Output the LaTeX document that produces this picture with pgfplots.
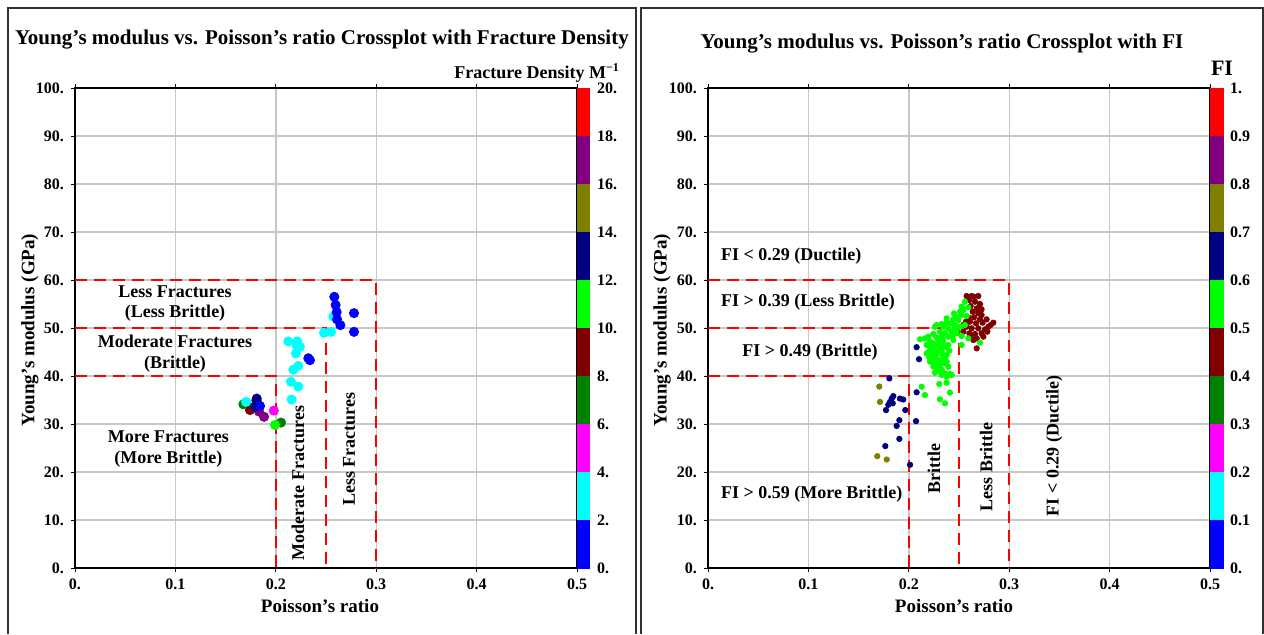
\documentclass[border=0pt]{standalone}
\usepackage{fontspec}
\setmainfont{Liberation Serif}
\usepackage{pgfplots}
\pgfplotsset{compat=1.18}

\definecolor{cBlue}{RGB}{0,0,255}
\definecolor{cCyan}{RGB}{0,255,255}
\definecolor{cMagenta}{RGB}{255,0,255}
\definecolor{cGreen}{RGB}{0,128,0}
\definecolor{cMaroon}{RGB}{128,0,0}
\definecolor{cLime}{RGB}{0,255,0}
\definecolor{cNavy}{RGB}{0,0,128}
\definecolor{cOlive}{RGB}{128,128,0}
\definecolor{cPurple}{RGB}{128,0,128}
\definecolor{cRed}{RGB}{255,0,0}
\definecolor{frame}{RGB}{50,50,50}

\tikzset{lab/.style={font=\bfseries\fontsize{9}{10.5}\selectfont, align=center}}

\pgfplotsset{
  colormap={tencol}{rgb255=(0,0,255) rgb255=(0,255,255) rgb255=(255,0,255)
    rgb255=(0,128,0) rgb255=(128,0,0) rgb255=(0,255,0) rgb255=(0,0,128)
    rgb255=(128,128,0) rgb255=(128,0,128) rgb255=(255,0,0)},
  crossplot/.style={
    scale only axis, width=251pt, height=240pt,
    xmin=0, xmax=0.5, ymin=0, ymax=100,
    xtick={0,0.1,0.2,0.3,0.4,0.5},
    xticklabels={0.,0.1,0.2,0.3,0.4,0.5},
    ytick={0,10,20,30,40,50,60,70,80,90,100},
    yticklabels={0.,10.,20.,30.,40.,50.,60.,70.,80.,90.,100.},
    grid=major, major grid style={black!22, line width=0.7pt},
    axis line style={line width=1.1pt, black},
    tick style={black, line width=0.5pt}, major tick length=2pt, tick align=outside,
    tick label style={font=\bfseries\fontsize{8}{9}\selectfont},
    /pgf/number format/assume math mode=true,
    colormap name=tencol, colormap access=piecewise constant,
    colorbar,
    colorbar style={
      at={(1,0)}, anchor=south west, xshift=0.6pt,
      scale only axis, width=6.5pt, height=240pt,
      major tick length=0pt, axis line style={draw=none},
      yticklabel style={font=\bfseries\fontsize{8}{9}\selectfont},
      /pgf/number format/assume math mode=true,
    },
  },
  fd/.style={only marks, mark=*, mark size=2.3pt, draw=#1, fill=#1},
  fi/.style={only marks, mark=*, mark size=1.35pt, draw=#1, fill=#1},
  cut/.style={cRed, line width=1pt, dash pattern=on 6pt off 3.5pt},
}

\begin{document}
\begin{tikzpicture}
\useasboundingbox (0,0) rectangle (632pt,317pt);

% ---------------- left: fracture density ----------------
\begin{axis}[crossplot, at={(37.5pt,33pt)}, anchor=south west,
  point meta min=0, point meta max=20,
  colorbar style={ytick={0,2,4,6,8,10,12,14,16,18,20},
    yticklabels={0.,2.,4.,6.,8.,10.,12.,14.,16.,18.,20.}}]
\addplot[cut] coordinates {(0,60) (0.3,60) (0.3,0)};
\addplot[cut] coordinates {(0,50) (0.25,50) (0.25,0)};
\addplot[cut] coordinates {(0,40) (0.2,40) (0.2,0)};

\addplot[fd=cGreen] coordinates {(0.1677,34.1) (0.1776,33.5) (0.2052,30.3)};
\addplot[fd=cMaroon] coordinates {(0.1743,32.9)};
\addplot[fd=cPurple] coordinates {(0.1833,32.6) (0.1883,31.5)};
\addplot[fd=cNavy] coordinates {(0.1810,35.3) (0.1816,34.4) (0.1790,33.6) (0.1806,34.9)};
\addplot[fd=cMagenta] coordinates {(0.1980,32.8)};
\addplot[fd=cLime] coordinates {(0.1992,29.8)};
\addplot[fd=cCyan] coordinates {
  (0.2573,52.4) (0.2550,49.2) (0.2480,49.0) (0.2125,47.2) (0.2214,47.2)
  (0.2208,46.3) (0.2240,46.1) (0.2200,44.7) (0.2224,42.1) (0.2175,41.3)
  (0.2151,38.8) (0.2224,37.8) (0.2158,35.1) (0.1703,34.6)};
\addplot[fd=cBlue] coordinates {
  (0.2583,56.5) (0.2596,54.8) (0.2606,53.3) (0.2610,51.8) (0.2643,50.6)
  (0.2779,53.1) (0.2779,49.2) (0.2324,43.7) (0.2340,43.3) (0.1843,33.75)};

\node[lab] at (axis cs:0.0996,55.1) {Less Fractures\\(Less Brittle)};
\node[lab] at (axis cs:0.0996,44.7) {Moderate Fractures\\(Brittle)};
\node[lab] at (axis cs:0.093,24.8) {More Fractures\\(More Brittle)};
\node[lab, rotate=90] at (axis cs:0.222,17.7) {Moderate Fractures};
\node[lab, rotate=90] at (axis cs:0.273,24.8) {Less Fractures};
\end{axis}

% ---------------- right: FI ----------------
\begin{axis}[crossplot, at={(354pt,33pt)}, anchor=south west,
  point meta min=0, point meta max=1,
  colorbar style={ytick={0,0.1,0.2,0.3,0.4,0.5,0.6,0.7,0.8,0.9,1},
    yticklabels={0.,0.1,0.2,0.3,0.4,0.5,0.6,0.7,0.8,0.9,1.}}]
\addplot[cut] coordinates {(0,60) (0.3,60) (0.3,0)};
\addplot[cut] coordinates {(0,50) (0.25,50) (0.25,0)};
\addplot[cut] coordinates {(0,40) (0.2,40) (0.2,0)};

\addplot[fi=cOlive] coordinates {(0.1706,37.8) (0.1713,34.6) (0.1686,23.3) (0.1780,22.6)};
\addplot[fi=cNavy] coordinates {
  (0.1806,39.5) (0.1846,35.8) (0.1912,35.3) (0.1945,35.1) (0.1813,34.6)
  (0.1796,34.0) (0.1773,32.9) (0.1965,32.9) (0.1906,30.8) (0.1879,29.6)
  (0.2072,30.6) (0.1906,26.9) (0.1766,25.4) (0.2012,21.5) (0.2078,36.6)
  (0.1830,35.3) (0.1840,34.3) (0.2078,46.0) (0.2102,43.5)};
\addplot[fi=cMaroon] coordinates {
  (0.2576,56.66) (0.2626,56.66) (0.2692,56.66) (0.2603,55.83) (0.2659,55.48)
  (0.2709,55.00) (0.2616,54.58) (0.2676,54.09) (0.2636,53.40) (0.2692,53.05)
  (0.2725,52.71) (0.2593,52.22) (0.2649,52.22) (0.2709,51.80) (0.2609,51.32)
  (0.2669,50.97) (0.2735,51.11) (0.2792,50.27) (0.2842,51.11) (0.2576,50.27)
  (0.2626,49.93) (0.2692,49.93) (0.2759,49.72) (0.2543,49.23) (0.2603,48.89)
  (0.2659,48.75) (0.2725,48.89) (0.2782,49.23) (0.2676,47.84) (0.2742,48.19)
  (0.2643,47.50) (0.2676,45.76) (0.2613,48.19) (0.2570,51.32) (0.2775,51.80)
  (0.2815,50.62) (0.2649,56.52) (0.2725,53.89) (0.2543,50.62)};
\addplot[fi=cLime] coordinates {
  (0.2559,55.48) (0.2593,54.30) (0.2543,53.75) (0.2510,53.40) (0.2526,52.71)
  (0.2476,52.22) (0.2443,51.80) (0.2377,52.01) (0.2493,51.66) (0.2576,52.50)
  (0.2277,50.62) (0.2327,50.83) (0.2377,51.11) (0.2417,50.97) (0.2460,50.62)
  (0.2510,50.27) (0.2476,49.58) (0.2393,49.93) (0.2344,50.27) (0.2261,50.27)
  (0.2111,47.64) (0.2194,48.19) (0.2244,48.75) (0.2310,49.23) (0.2360,48.89)
  (0.2427,49.23) (0.2476,48.89) (0.2393,48.19) (0.2327,48.33) (0.2277,48.05)
  (0.2211,47.15) (0.2526,48.33) (0.2178,46.46) (0.2244,46.80) (0.2294,46.46)
  (0.2344,46.80) (0.2393,46.46) (0.2244,45.76) (0.2211,45.41) (0.2310,45.76)
  (0.2360,45.97) (0.2443,47.50) (0.2526,46.46) (0.2709,46.94) (0.2593,47.84)
  (0.2178,44.72) (0.2227,44.58) (0.2277,44.37) (0.2327,45.07) (0.2377,44.37)
  (0.2261,43.68) (0.2310,43.33) (0.2360,43.68) (0.2244,45.07) (0.2294,45.41)
  (0.2211,42.98) (0.2261,42.64) (0.2310,42.29) (0.2360,42.64) (0.2393,41.94)
  (0.2277,41.59) (0.2327,41.39) (0.2244,41.94) (0.2377,42.98) (0.2310,40.90)
  (0.2360,40.55) (0.2410,40.41) (0.2261,40.69) (0.2377,39.86) (0.2327,40.21)
  (0.2128,37.77) (0.2161,36.04) (0.2304,38.33) (0.2377,38.61) (0.2410,36.53)
  (0.2310,35.14) (0.2360,34.30) (0.2427,40.21) (0.2559,50.62) (0.2294,47.50)
  (0.2337,47.64) (0.2227,46.11) (0.2284,42.98) (0.2337,44.44) (0.2244,44.03)
  (0.2204,43.89) (0.2403,45.28) (0.2437,48.33) (0.2460,49.93) (0.2161,47.84)
  (0.2450,53.05) (0.2526,54.44)};

\node[lab, anchor=west] at (axis cs:0.006,65) {FI < 0.29 (Ductile)};
\node[lab, anchor=west] at (axis cs:0.006,55.4) {FI > 0.39 (Less Brittle)};
\node[lab] at (axis cs:0.1016,45) {FI > 0.49 (Brittle)};
\node[lab, anchor=west] at (axis cs:0.006,15.4) {FI > 0.59 (More Brittle)};
\node[lab, rotate=90] at (axis cs:0.225,20.8) {Brittle};
\node[lab, rotate=90] at (axis cs:0.277,21) {Less Brittle};
\node[lab, rotate=90] at (axis cs:0.345,25.4) {FI < 0.29 (Ductile)};
\end{axis}

% frames, titles and axis labels
\draw[frame, line width=1pt] (4pt,0) -- (4pt,313pt) -- (318pt,313pt) -- (318pt,0);
\draw[frame, line width=1pt] (320.5pt,0) -- (320.5pt,313pt) -- (631.5pt,313pt) -- (631.5pt,0);

\node[font=\bfseries\fontsize{10.5}{12}\selectfont] at (161pt,297pt)
  {Young’s modulus vs. Poisson’s ratio Crossplot with Fracture Density};
\node[font=\bfseries\fontsize{10.5}{12}\selectfont] at (471pt,295pt)
  {Young’s modulus vs. Poisson’s ratio Crossplot with FI};
\node[font=\bfseries\fontsize{9}{11}\selectfont, anchor=east] at (313.5pt,280.5pt)
  {Fracture Density M\textsuperscript{−1}};
\node[font=\bfseries\fontsize{11}{13}\selectfont] at (611pt,283pt) {FI};

\node[font=\bfseries\fontsize{9.5}{11}\selectfont] at (160pt,14pt) {Poisson’s ratio};
\node[font=\bfseries\fontsize{9.5}{11}\selectfont, rotate=90] at (15pt,152pt) {Young’s modulus (GPa)};
\node[font=\bfseries\fontsize{9.5}{11}\selectfont] at (477pt,14pt) {Poisson’s ratio};
\node[font=\bfseries\fontsize{9.5}{11}\selectfont, rotate=90] at (331pt,152pt) {Young’s modulus (GPa)};
\end{tikzpicture}
\end{document}
